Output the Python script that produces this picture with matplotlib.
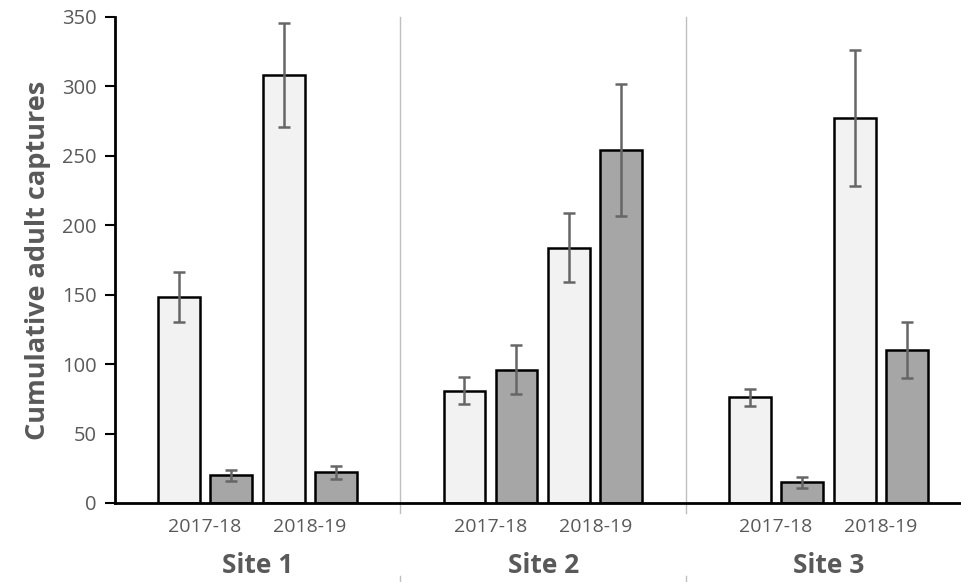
import matplotlib.pyplot as plt
import numpy as np

plt.rcParams['font.family'] = ['Open Sans', 'DejaVu Sans']

sites = ['Site 1', 'Site 2', 'Site 3']
years = ['2017-18', '2018-19']

# cumulative captures per site, [2017-18, 2018-19]
light_vals = [[148, 308], [81, 184], [76, 277]]
light_err = [[18, 37.5], [9.5, 24.5], [6, 49]]
dark_vals = [[20, 22], [96, 254], [15, 110]]
dark_err = [[4, 4.5], [17.5, 47.5], [4, 20]]

light_col = '#f2f2f2'
dark_col = '#a6a6a6'
grey = '#595959'

fig = plt.figure(figsize=(9.62, 5.82), dpi=100)
ax = fig.add_axes([115 / 962, 1 - 503 / 582, 847 / 962, 486 / 582])

year_pos = np.array([0.315, 0.682])
off = 0.091
w = 0.146

for s in range(len(sites)):
    xc = s + year_pos
    ax.bar(xc - off, light_vals[s], w, color=light_col, edgecolor='black', linewidth=1.8, zorder=2)
    ax.bar(xc + off, dark_vals[s], w, color=dark_col, edgecolor='black', linewidth=1.8, zorder=2)
    ax.errorbar(xc - off, light_vals[s], yerr=light_err[s], fmt='none', ecolor='#666666',
                elinewidth=1.8, capsize=4.5, capthick=1.8, zorder=3)
    ax.errorbar(xc + off, dark_vals[s], yerr=dark_err[s], fmt='none', ecolor='#666666',
                elinewidth=1.8, capsize=4.5, capthick=1.8, zorder=3)
    for j, y in enumerate(years):
        ax.text(xc[j], -0.05, y, transform=ax.get_xaxis_transform(), ha='center', va='center',
                fontsize=14, color=grey)
    ax.text(s + 0.5, -0.128, sites[s], transform=ax.get_xaxis_transform(), ha='center', va='center',
            fontsize=19, fontweight='bold', color=grey)
    if s > 0:
        # group separators running through the plot and the label area
        ax.plot([s, s], [1.0, -0.02], transform=ax.get_xaxis_transform(), color='#bfbfbf',
                linewidth=1, clip_on=False, zorder=1)
        ax.plot([s, s], [-0.15, -0.2], transform=ax.get_xaxis_transform(), color='#bfbfbf',
                linewidth=1, clip_on=False, zorder=1)

ax.set_xlim(0, 847 / 285.5)
ax.set_ylim(0, 350)
ax.set_yticks(np.arange(0, 351, 50))
ax.set_xticks([])
ax.tick_params(axis='y', direction='out', length=7, width=1.5, labelsize=14.5, labelcolor=grey, pad=6)
for side in ['top', 'right']:
    ax.spines[side].set_visible(False)
ax.spines['left'].set_linewidth(2)
ax.spines['bottom'].set_linewidth(2)
ax.set_ylabel('Cumulative adult captures', fontsize=19.5, fontweight='bold', color=grey, labelpad=8)

fig.savefig('out.png', dpi=100)
